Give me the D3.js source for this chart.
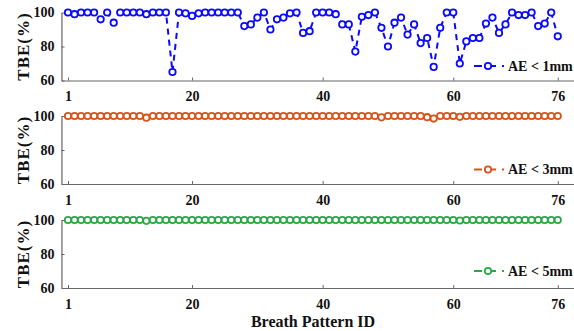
<!DOCTYPE html>
<html>
<head>
<meta charset="utf-8">
<script src="https://cdn.jsdelivr.net/npm/d3@7.9.0/dist/d3.min.js"></script>
<style>
  body { margin: 0; background: #fff; }
  svg { display: block; }
  text { font-family: "Liberation Serif", "Times New Roman", serif; font-weight: bold; fill: #111; }
</style>
</head>
<body>
<div id="chart"></div>
<script>
// DATA
const ids = d3.range(1, 77);
const xTicks = [1, 20, 40, 60, 76];
const yTicks = [60, 80, 100];

const tbe1mm = [100, 99, 100, 100, 100, 96, 100, 94, 100, 100,
  100, 100, 99, 100, 100, 100, 65, 100, 99.5, 98,
  99.5, 100, 100, 100, 100, 100, 100, 92, 93, 97,
  100, 90, 96, 97, 99.5, 100, 88, 89, 100, 100,
  100, 99, 93, 93, 77, 97.5, 98.5, 100, 91, 80,
  94, 97, 87, 93, 82, 85, 68, 91, 100, 100,
  70, 83, 85, 85, 93.5, 97, 88, 93, 100, 98.5,
  98.5, 100, 92, 93.5, 100, 86];

const tbe3mm = ids.map(i => 100);
tbe3mm[12] = 99; tbe3mm[48] = 99.2; tbe3mm[55] = 99.3; tbe3mm[56] = 98.5; tbe3mm[60] = 99.5;

const tbe5mm = ids.map(i => 100);
tbe5mm[12] = 99.5; tbe5mm[60] = 99.7;

const series = [
  { label: 'AE < 1mm', values: tbe1mm, color: '#0a0aff' },
  { label: 'AE < 3mm', values: tbe3mm, color: '#d95319' },
  { label: 'AE < 5mm', values: tbe5mm, color: '#2aa846' },
];

// LAYOUT
const width = 574, height = 331;
const panelTops = [12.5, 116, 220];
const panelH = 68;
const legendDy = [53.5, 53.5, 51];

const svg = d3.select('#chart').append('svg')
  .attr('width', width).attr('height', height);

const x = d3.scaleLinear()
  .domain([0, 79])
  .range([68 - 6.53, 68 + 78 * 6.53]);

series.forEach((s, k) => {
  const top = panelTops[k];
  const y = d3.scaleLinear().domain([60, 100]).range([top + panelH, top]);
  const g = svg.append('g');

  // axes
  const ax = g.append('g')
    .attr('transform', `translate(0,${top + panelH})`)
    .call(d3.axisBottom(x).tickValues(xTicks).tickSizeInner(-3).tickSizeOuter(0).tickPadding(11));
  const ay = g.append('g')
    .attr('transform', `translate(${x(0)},0)`)
    .call(d3.axisLeft(y).tickValues(yTicks).tickSizeInner(-3).tickSizeOuter(0).tickPadding(7));

  [ax, ay].forEach(a => {
    a.select('.domain').attr('stroke', '#666').attr('stroke-width', 1.2);
    a.selectAll('.tick line').attr('stroke', '#666');
    a.selectAll('.tick text')
      .attr('font-family', '"Liberation Serif", serif')
      .attr('font-weight', 'bold')
      .attr('font-size', 14)
      .attr('fill', '#111');
  });

  // y label
  g.append('text')
    .attr('transform', `translate(23,${top + panelH / 2}) rotate(-90)`)
    .attr('text-anchor', 'middle')
    .attr('dy', '0.35em')
    .style('font-size', '17px')
    .style('letter-spacing', '1px')
    .text('TBE(%)');

  // line
  const line = d3.line()
    .x((d, i) => x(ids[i]))
    .y(d => y(d));

  g.append('path')
    .datum(s.values)
    .attr('d', line)
    .attr('fill', 'none')
    .attr('stroke', s.color)
    .attr('stroke-width', 2)
    .attr('stroke-dasharray', '6,5');

  g.selectAll('circle.pt')
    .data(s.values)
    .join('circle')
    .attr('class', 'pt')
    .attr('cx', (d, i) => x(ids[i]))
    .attr('cy', d => y(d))
    .attr('r', 3.2)
    .attr('fill', '#fff')
    .attr('stroke', s.color)
    .attr('stroke-width', 1.8);

  // legend
  const ly = top + legendDy[k];
  const lg = g.append('g');
  lg.append('line')
    .attr('x1', 474).attr('x2', 504)
    .attr('y1', ly).attr('y2', ly)
    .attr('stroke', s.color)
    .attr('stroke-width', 2)
    .attr('stroke-dasharray', '8,6');
  lg.append('circle')
    .attr('cx', 488).attr('cy', ly).attr('r', 3.2)
    .attr('fill', '#fff')
    .attr('stroke', s.color)
    .attr('stroke-width', 1.8);
  lg.append('text')
    .attr('x', 508).attr('y', ly)
    .attr('dy', '0.35em')
    .style('font-size', '14px')
    .text(s.label);
});

// x label
svg.append('text')
  .attr('x', 313).attr('y', 327)
  .attr('text-anchor', 'middle')
  .style('font-size', '16px')
  .text('Breath Pattern ID');
</script>
</body>
</html>
